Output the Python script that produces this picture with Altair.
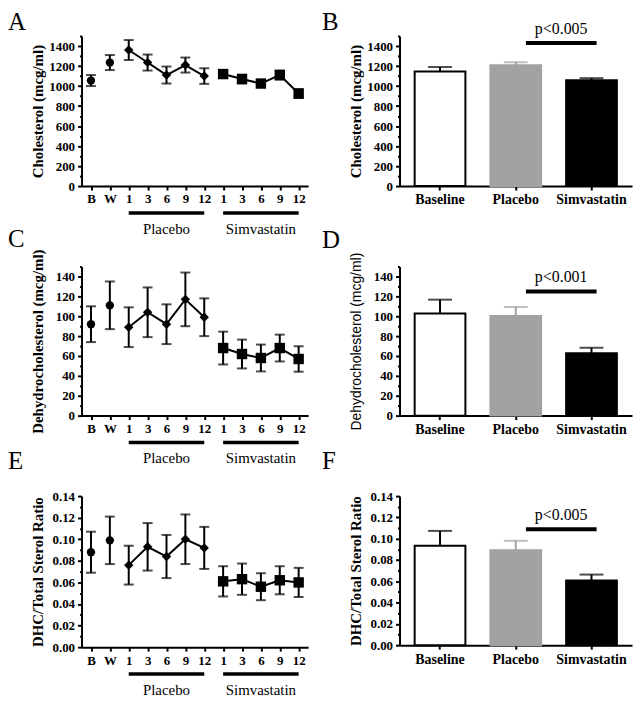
import altair as alt
import pandas as pd

# ---------------- data ----------------
time_keys = ["B", "W", "P1", "P3", "P6", "P9", "P12", "S1", "S3", "S6", "S9", "S12"]
time_group = ["Pre", "Pre", "Placebo", "Placebo", "Placebo", "Placebo", "Placebo",
              "Simvastatin", "Simvastatin", "Simvastatin", "Simvastatin", "Simvastatin"]

chol_mean = [1055, 1235, 1360, 1235, 1110, 1210, 1100, 1120, 1070, 1025, 1110, 925]
chol_sem = [55, 75, 100, 80, 85, 75, 78, 40, 43, 30, 45, 43]
dhc_mean = [92, 111, 89, 104, 92, 117, 99, 68, 62, 58, 68, 57]
dhc_sem = [18, 24, 20, 25, 20, 27, 19, 16.5, 14.5, 13.5, 13.5, 12.8]
ratio_mean = [0.088, 0.099, 0.076, 0.093, 0.084, 0.100, 0.092, 0.061, 0.063, 0.056, 0.062, 0.060]
ratio_sem = [0.019, 0.022, 0.018, 0.022, 0.020, 0.023, 0.0195, 0.014, 0.0145, 0.0125, 0.013, 0.0135]

bar_groups = ["Baseline", "Placebo", "Simvastatin"]
chol_bar_mean = [1145, 1208, 1059]
chol_bar_sem = [45, 30, 20]
dhc_bar_mean = [102.7, 100.3, 62.7]
dhc_bar_sem = [14, 9, 5.6]
ratio_bar_mean = [0.0933, 0.0892, 0.0607]
ratio_bar_sem = [0.014, 0.0088, 0.0056]

sig_labels = ["p<0.005", "p<0.001", "p<0.005"]
sig_levels = [1430, 125, 0.1088]

group_names = ["Placebo", "Simvastatin"]
group_start = ["P1", "S1"]
group_end = ["P12", "S12"]
group_mid = ["P6", "S6"]

chol_ticks = [0, 100, 200, 300, 400, 500, 600, 700, 800, 900, 1000, 1100, 1200, 1300, 1400, 1500]
dhc_ticks = [0, 10, 20, 30, 40, 50, 60, 70, 80, 90, 100, 110, 120, 130, 140, 150]
ratio_ticks = [0.0, 0.01, 0.02, 0.03, 0.04, 0.05, 0.06, 0.07, 0.08, 0.09, 0.10, 0.11, 0.12, 0.13, 0.14]

SERIF = "Liberation Serif"
SANS = "Liberation Sans"
GRAY = "#a2a2a5"

LEFT_W = 228
RIGHT_W = 234


def y_axis(title, ticks, test, fmt, tfont=SERIF, tweight="bold", tsize=15):
    return alt.Axis(
        title=title, values=ticks, tickCount=40, format=fmt,
        labelExpr=f"({test}) ? datum.label : ''",
        tickSize={"condition": {"test": test, "value": 4}, "value": 2},
        labelOverlap=False, labelPadding=3,
        labelFont=SERIF, labelFontWeight="bold", labelFontSize=13,
        titleFont=tfont, titleFontWeight=tweight, titleFontSize=tsize, titleX=-36,
    )


def letter_layer(letter, ly, lx):
    return alt.Chart(pd.DataFrame({"letter": [letter]})).mark_text(
        font=SERIF, fontSize=25, align="left", baseline="alphabetic", color="black"
    ).encode(x=alt.value(lx), y=alt.value(ly), text="letter:N")


def line_panel(letter, mean, sem, ticks, test, fmt, ytitle, h, ly):
    df = pd.DataFrame({
        "t": time_keys, "g": time_group, "m": mean,
        "lo": [m - s for m, s in zip(mean, sem)],
        "hi": [m + s for m, s in zip(mean, sem)],
    })
    xscale = alt.Scale(type="point", domain=time_keys, padding=0.5)
    yscale = alt.Scale(domain=[ticks[0], ticks[-1]], nice=False)
    xaxis = alt.Axis(
        title=None, labelAngle=0, labelOverlap=False, tickSize=4, labelPadding=3,
        labelFont=SERIF, labelFontWeight="bold", labelFontSize=13,
        labelExpr="replace(replace(datum.label, 'P', ''), 'S', '')",
    )
    base = alt.Chart(df)
    err = base.mark_rule(strokeWidth=2, color="black").encode(
        x=alt.X("t:N", scale=xscale, axis=xaxis),
        y=alt.Y("lo:Q", scale=yscale, axis=y_axis(ytitle, ticks, test, fmt)),
        y2="hi:Q",
    )
    cap_lo = base.mark_tick(thickness=2, size=10, color="black").encode(
        x=alt.X("t:N", scale=xscale), y=alt.Y("lo:Q"))
    cap_hi = base.mark_tick(thickness=2, size=10, color="black").encode(
        x=alt.X("t:N", scale=xscale), y=alt.Y("hi:Q"))
    line = base.transform_filter("datum.g != 'Pre'").mark_line(strokeWidth=2, color="black").encode(
        x=alt.X("t:N", scale=xscale), y=alt.Y("m:Q"), detail="g:N")
    pts = base.mark_point(filled=True, opacity=1, color="black").encode(
        x=alt.X("t:N", scale=xscale), y=alt.Y("m:Q"),
        shape=alt.Shape("g:N", scale=alt.Scale(domain=["Pre", "Placebo", "Simvastatin"],
                                                 range=["circle", "diamond", "square"]), legend=None),
        size=alt.Size("g:N", scale=alt.Scale(domain=["Pre", "Placebo", "Simvastatin"],
                                               range=[70, 110, 64]), legend=None),
    )
    gdf = pd.DataFrame({"g": group_names, "start": group_start, "end": group_end, "mid": group_mid})
    underline = alt.Chart(gdf).mark_rule(strokeWidth=3.5, color="black").encode(
        x=alt.X("start:N", scale=xscale), x2="end:N", y=alt.value(h + 27))
    glabel = alt.Chart(gdf).mark_text(font=SERIF, fontSize=15, baseline="middle", color="black").encode(
        x=alt.X("mid:N", scale=xscale), y=alt.value(h + 43), text="g:N")
    return alt.layer(err, cap_lo, cap_hi, line, pts, underline, glabel,
                     letter_layer(letter, ly, -74)).properties(width=LEFT_W, height=h)


def bar_panel(letter, mean, sem, ticks, test, fmt, ytitle, sig_y, sig_label, h, ly,
              tfont=SERIF, tweight="bold", tsize=15):
    df = pd.DataFrame({"grp": bar_groups, "m": mean, "hi": [m + s for m, s in zip(mean, sem)]})
    xscale = alt.Scale(domain=bar_groups, paddingInner=0.33, paddingOuter=0.2)
    yscale = alt.Scale(domain=[ticks[0], ticks[-1]], nice=False)
    xaxis = alt.Axis(title=None, labelAngle=0, tickSize=4, labelPadding=3,
                     labelFont=SERIF, labelFontWeight="bold", labelFontSize=14)
    base = alt.Chart(df)
    bars = base.mark_bar(strokeWidth=2).encode(
        x=alt.X("grp:N", scale=xscale, axis=xaxis),
        y=alt.Y("m:Q", scale=yscale, axis=y_axis(ytitle, ticks, test, fmt, tfont, tweight, tsize)),
        fill=alt.Fill("grp:N", scale=alt.Scale(domain=bar_groups, range=["white", GRAY, "black"]), legend=None),
        stroke=alt.Stroke("grp:N", scale=alt.Scale(domain=bar_groups, range=["black", GRAY, "black"]), legend=None),
    )
    cscale = alt.Scale(domain=bar_groups, range=["black", GRAY, "black"])
    err = base.mark_rule(strokeWidth=2).encode(
        x=alt.X("grp:N", scale=xscale), y=alt.Y("m:Q"), y2="hi:Q",
        color=alt.Color("grp:N", scale=cscale, legend=None))
    cap = base.mark_tick(thickness=2, size=24).encode(
        x=alt.X("grp:N", scale=xscale), y=alt.Y("hi:Q"),
        color=alt.Color("grp:N", scale=cscale, legend=None))
    sdf = pd.DataFrame({"a": ["Placebo"], "b": ["Simvastatin"], "y": [sig_y], "label": [sig_label]})
    srule = alt.Chart(sdf).mark_rule(strokeWidth=4, color="black").encode(
        x=alt.X("a:N", scale=xscale, bandPosition=0.7),
        x2=alt.X2("b:N", bandPosition=0.6),
        y=alt.Y("y:Q"))
    stext = alt.Chart(sdf).mark_text(font=SERIF, fontSize=16, baseline="middle", dy=-14, dx=-5,
                                      color="black").encode(
        x=alt.X("b:N", scale=xscale, bandPosition=0),
        y=alt.Y("y:Q"), text="label:N")
    return alt.layer(bars, err, cap, srule, stext,
                     letter_layer(letter, ly, -78)).properties(width=RIGHT_W, height=h)


pA = line_panel("A", chol_mean, chol_sem, chol_ticks, "datum.value % 200 == 0", "d",
                "Cholesterol (mcg/ml)", 151, -6)
pB = bar_panel("B", chol_bar_mean, chol_bar_sem, chol_ticks, "datum.value % 200 == 0", "d",
               "Cholesterol (mcg/ml)", sig_levels[0], sig_labels[0], 151, -6)
pC = line_panel("C", dhc_mean, dhc_sem, dhc_ticks, "datum.value % 20 == 0", "d",
                "Dehydrocholesterol (mcg/ml)", 150, -20)
pD = bar_panel("D", dhc_bar_mean, dhc_bar_sem, dhc_ticks, "datum.value % 20 == 0", "d",
               "Dehydrocholesterol (mcg/ml)", sig_levels[1], sig_labels[1], 150, -19,
               tfont=SANS, tweight="normal", tsize=14)
pE = line_panel("E", ratio_mean, ratio_sem, ratio_ticks, "round(datum.value * 100) % 2 == 0", ".2f",
                "DHC/Total Sterol Ratio", 152, -27)
pF = bar_panel("F", ratio_bar_mean, ratio_bar_sem, ratio_ticks, "round(datum.value * 100) % 2 == 0", ".2f",
               "DHC/Total Sterol Ratio", sig_levels[2], sig_labels[2], 150, -27)

chart = alt.concat(pA, pB, pC, pD, pE, pF, columns=2,
                   spacing={"row": 81, "column": 92}, bounds="flush").properties(
    padding={"left": 0, "top": 0, "right": 4, "bottom": 4}, background="white"
).configure_view(stroke=None).configure_axis(
    grid=False, domainColor="black", domainWidth=2, tickColor="black", tickWidth=2,
    labelColor="black", labelFont=SERIF, labelFontWeight="bold", labelFontSize=13,
    labelOverlap=False,
    titleColor="black", titleFont=SERIF, titleFontWeight="bold", titleFontSize=15,
)

chart.save("out.html", embed_options={"renderer": "svg", "actions": False})
